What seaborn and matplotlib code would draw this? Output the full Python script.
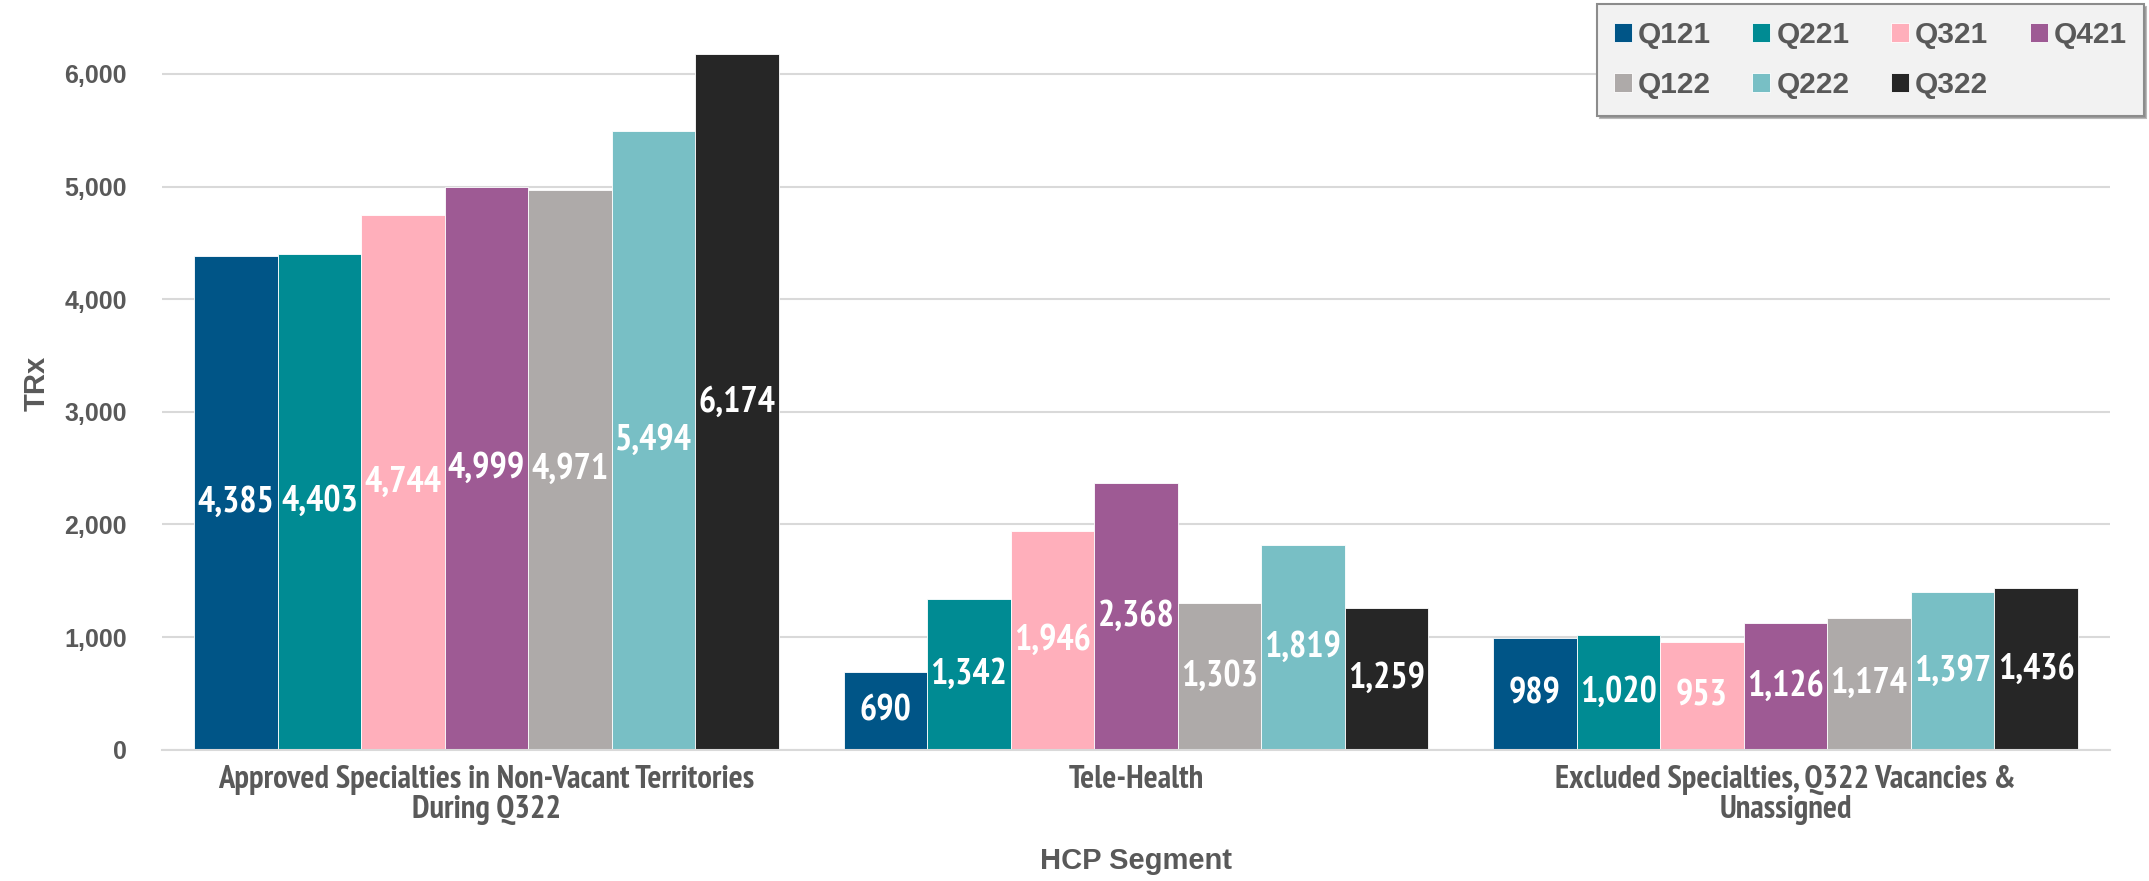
import matplotlib
matplotlib.use("Agg")
import matplotlib.pyplot as plt
import seaborn as sns
import pandas as pd
from matplotlib.ticker import FuncFormatter, FixedLocator
from matplotlib import font_manager

segments = ["Approved Specialties in Non-Vacant Territories\nDuring Q322",
            "Tele-Health",
            "Excluded Specialties, Q322 Vacancies &\nUnassigned"]
quarters = ["Q121", "Q221", "Q321", "Q421", "Q122", "Q222", "Q322"]
q121 = [4385, 690, 989]
q221 = [4403, 1342, 1020]
q321 = [4744, 1946, 953]
q421 = [4999, 2368, 1126]
q122 = [4971, 1303, 1174]
q222 = [5494, 1819, 1397]
q322 = [6174, 1259, 1436]
colors = ["#005587", "#008B93", "#FFAFBB", "#9E5A94", "#AEAAA9", "#78BFC5", "#262626"]

series = [q121, q221, q321, q421, q122, q222, q322]
rows = []
for q, vals in zip(quarters, series):
    for s, v in zip(segments, vals):
        rows.append({"segment": s, "quarter": q, "TRx": v})
df = pd.DataFrame(rows)

sns.set_style("white")


def has_bold(name):
    for f in font_manager.fontManager.ttflist:
        if f.name == name:
            w = f.weight
            try:
                w = int(w)
            except (TypeError, ValueError):
                w = 700 if str(w).lower() in ("bold", "heavy", "black", "extra bold") else 400
            if w >= 700:
                return True
    return False


narrow = "Liberation Sans"
for cand in ["Liberation Sans Narrow", "Arial Narrow", "Arimo Narrow", "Archivo Narrow",
             "PT Sans Narrow", "Roboto Condensed", "Pragati Narrow", "Fira Sans Condensed"]:
    if has_bold(cand):
        narrow = cand
        break
plt.rcParams["font.family"] = ["Liberation Sans", "DejaVu Sans"]

gray = "#595959"
fig = plt.figure(figsize=(21.49, 8.81), dpi=100)
ax = fig.add_axes([0.0752, 0.149, 0.9068, 0.831])

sns.barplot(data=df, x="segment", y="TRx", hue="quarter", hue_order=quarters,
            order=segments, palette=colors, width=0.9, gap=0,
            edgecolor="white", linewidth=0.6, saturation=1, errorbar=None, ax=ax)

for cont, vals in zip(ax.containers, series):
    ax.bar_label(cont, labels=[f"{v:,}" for v in vals], label_type="center",
                 color="white", fontsize=26, fontweight="bold", family=[narrow, "DejaVu Sans"])

ax.set_ylim(0, 6500)
ax.set_xlim(-0.5, 2.5)
ax.yaxis.set_major_locator(FixedLocator([0, 1000, 2000, 3000, 4000, 5000, 6000]))
ax.yaxis.set_major_formatter(FuncFormatter(lambda v, p: f"{int(v):,}"))
ax.grid(axis="y", color="#d9d9d9", linewidth=1.5)
ax.set_axisbelow(True)
for sp in ["top", "right", "left"]:
    ax.spines[sp].set_visible(False)
ax.spines["bottom"].set_color("#d9d9d9")
ax.spines["bottom"].set_linewidth(1.5)

ax.tick_params(axis="y", length=0, pad=25, labelsize=18, labelcolor=gray)
for t in ax.get_yticklabels():
    t.set_fontweight("bold")
ax.tick_params(axis="x", which="major", length=0, pad=11, labelsize=23.5, labelcolor=gray)
for t in ax.get_xticklabels():
    t.set_fontweight("bold")
    t.set_family([narrow, "DejaVu Sans"])
    t.set_linespacing(1.0)
ax.set_xticks([-0.5, 0.5, 1.5, 2.5], minor=True)
ax.tick_params(axis="x", which="minor", length=9, width=1.5, color="#d9d9d9")

ax.set_xlabel("HCP Segment", fontsize=21, fontweight="bold", color=gray, labelpad=16)
ax.set_ylabel("TRx", fontsize=21, fontweight="bold", color=gray, labelpad=10)

handles, labels = ax.get_legend_handles_labels()
ax.get_legend().remove()
order = [0, 4, 1, 5, 2, 6, 3]
leg = fig.legend([handles[i] for i in order], [labels[i] for i in order],
                 ncol=4, loc="upper right", bbox_to_anchor=(0.9975, 0.995), borderaxespad=0,
                 frameon=True, fancybox=False, shadow={"color": "0.55", "alpha": 0.6},
                 facecolor="#f2f2f2", edgecolor="#8c8c8c",
                 handlelength=0.6, handleheight=0.6, handletextpad=0.2,
                 columnspacing=1.4, labelspacing=0.75, borderpad=0.55,
                 prop={"weight": "bold", "size": 21.5})
leg.get_frame().set_linewidth(1.5)
for t in leg.get_texts():
    t.set_color(gray)
for h in leg.legend_handles:
    h.set_edgecolor("white")

fig.savefig("out.png", dpi=100)
